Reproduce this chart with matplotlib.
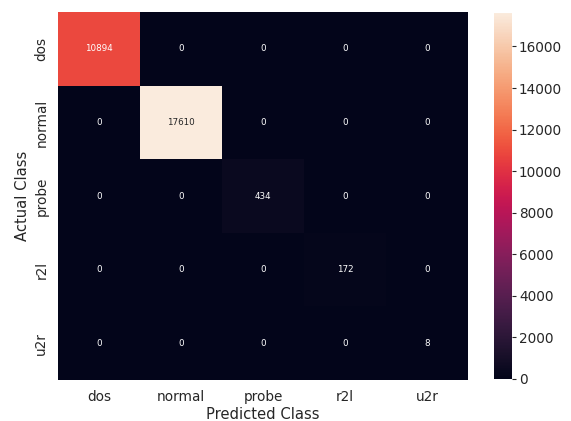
import matplotlib
matplotlib.use("Agg")
import matplotlib.pyplot as plt
import seaborn as sns
import numpy as np

labels = ["dos", "normal", "probe", "r2l", "u2r"]
row_dos = [10894, 0, 0, 0, 0]
row_normal = [0, 17610, 0, 0, 0]
row_probe = [0, 0, 434, 0, 0]
row_r2l = [0, 0, 0, 172, 0]
row_u2r = [0, 0, 0, 0, 8]

cm = np.array([row_dos, row_normal, row_probe, row_r2l, row_u2r])

sns.set_theme()
W, H = 571, 421
fig = plt.figure(figsize=(W / 100, H / 100), dpi=100)
ax = fig.add_axes([58 / W, 1 - 380 / H, (468 - 58) / W, (380 - 12) / H])
cax = fig.add_axes([494 / W, 1 - 379 / H, (512 - 494) / W, (379 - 13) / H])

sns.heatmap(cm, annot=True, fmt="d", annot_kws={"size": 6.3}, ax=ax, cbar_ax=cax,
            xticklabels=labels, yticklabels=labels)
ax.set_xlabel("Predicted Class", fontsize=10.6, labelpad=2.5)
ax.set_ylabel("Actual Class", fontsize=10.6, labelpad=3)
ax.tick_params(labelsize=9.8, length=0, pad=7)
cax.tick_params(labelsize=9.8, length=3, width=0.8, pad=2, color="#262626")
fig.savefig("out.png", dpi=100)
